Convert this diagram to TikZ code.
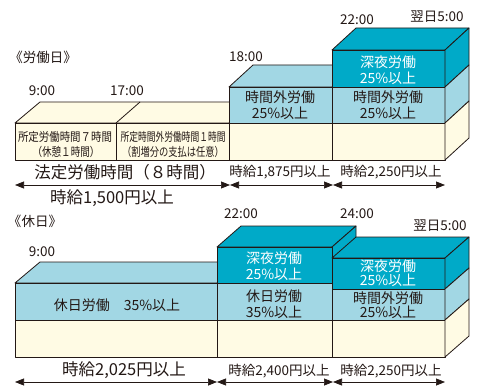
\documentclass[tikz,border=0pt]{standalone}
\usepackage{graphicx}
\usepackage{fontspec}
\setmainfont{Noto Sans CJK JP}
\usetikzlibrary{arrows.meta}
\definecolor{teal1}{RGB}{0,170,200}
\definecolor{lblue}{RGB}{162,215,228}
\definecolor{cream}{RGB}{255,251,228}
\definecolor{ink}{RGB}{35,24,21}
\newcommand{\condw}[2]{\resizebox{#1}{\height}{#2}}
\begin{document}
\begin{tikzpicture}[x=1pt,y=-1pt,
  face/.style={draw=ink, line width=0.8pt, line join=round},
  tf/.style={face, fill=teal1}, bf/.style={face, fill=lblue}, cf/.style={face, fill=cream},
  lab/.style={text=ink, inner sep=0pt, font=\fontsize{13.5}{15}\selectfont},
  big/.style={lab, font=\fontsize{16.5}{18}\selectfont},
  mid/.style={lab, font=\fontsize{13.5}{15}\selectfont},
  blk/.style={lab, font=\fontsize{14}{16.5}\selectfont, align=center},
  wblk/.style={blk, text=white},
  small/.style={lab, font=\fontsize{12}{14}\selectfont},
  arr/.style={draw=ink, line width=0.7pt, {Triangle[length=9pt,width=7pt]}-{Triangle[length=9pt,width=7pt]}}
]
\useasboundingbox (0,0) rectangle (481,385);
\fill[white] (0,0) rectangle (481,385);

% ===== top section (working day) =====
% long cream block
\draw[cf] (15,123) -- (40,102) -- (253,102) -- (229,123) -- cycle;
\draw[face] (116,123) -- (140,102);
\draw[cf] (15,123) rectangle (116,160);
\draw[cf] (116,123) rectangle (229,160);
% 18:00 block
\draw[bf] (229,87) -- (253,65) -- (356,65) -- (332,87) -- cycle;
\draw[bf] (229,87) rectangle (332,123);
\draw[cf] (229,123) rectangle (332,160);
% 22:00 block
\draw[tf] (332,50) -- (356,28) -- (469,28) -- (445,50) -- cycle;
\draw[tf] (332,50) rectangle (445,87);
\draw[bf] (332,87) rectangle (445,123);
\draw[cf] (332,123) rectangle (445,160);
\draw[tf] (445,50) -- (469,28) -- (469,65) -- (445,87) -- cycle;
\draw[bf] (445,87) -- (469,65) -- (469,101) -- (445,123) -- cycle;
\draw[cf] (445,123) -- (469,101) -- (469,138) -- (445,160) -- cycle;

\node[lab] (wd) at (43,57) {《労働日》};
\node[lab] (t1) at (42,91) {9:00};
\node[lab] (t2) at (127,91) {17:00};
\node[lab] (t3) at (246,57) {18:00};
\node[lab] (t4) at (357,20) {22:00};
\node[lab] (t5) at (437,17) {翌日5:00};

\node[small] (c1a) at (65,137) {\condw{94pt}{所定労働時間７時間}};
\node[small] (c1b) at (66,152) {\condw{67pt}{（休憩１時間）}};
\node[small] (c2a) at (173,137) {\condw{105pt}{所定時間外労働時間１時間}};
\node[small] (c2b) at (173,152) {\condw{102pt}{（割増分の支払は任意）}};

\node[blk] (b1) at (280,105) {時間外労働\\25\%以上};
\node[wblk] (b2) at (388,70) {深夜労働\\25\%以上};
\node[blk] (b3) at (388,105) {時間外労働\\25\%以上};

\node[big] (hl) at (125,172) {法定労働時間（８時間）};
\node[big] (p1) at (112,198) {時給1,500円以上};
\node[mid] (p2) at (280,172) {時給1,875円以上};
\node[mid] (p3) at (391,172) {時給2,250円以上};

\coordinate (a0) at (15,185);
\coordinate (a1) at (230,185);
\coordinate (a2) at (333,185);
\coordinate (a3) at (445,185);
\draw[arr] (a0) -- (a1);
\draw[arr] (a1) -- (a2);
\draw[arr] (a2) -- (a3);

% ===== bottom section (holiday) =====
\draw[bf] (15,283) -- (40,262) -- (241,262) -- (217,283) -- cycle;
\draw[bf] (15,283) rectangle (217,320);
\draw[cf] (15,320) rectangle (217,357);
% 22:00 block
\draw[tf] (217,247) -- (241,226) -- (356,226) -- (332,247) -- cycle;
\draw[tf] (332,247) -- (356,226) -- (356,240) -- (332,262) -- cycle;
\draw[tf] (217,247) rectangle (332,283);
\draw[bf] (217,283) rectangle (332,320);
\draw[cf] (217,320) rectangle (332,357);
% 24:00 block
\draw[tf] (332,258) -- (356,237) -- (469,237) -- (445,258) -- cycle;
\draw[tf] (332,258) rectangle (445,289);
\draw[bf] (332,289) rectangle (445,320);
\draw[cf] (332,320) rectangle (445,357);
\draw[tf] (445,258) -- (469,237) -- (469,268) -- (445,289) -- cycle;
\draw[bf] (445,289) -- (469,268) -- (469,299) -- (445,320) -- cycle;
\draw[cf] (445,320) -- (469,299) -- (469,336) -- (445,357) -- cycle;

\node[lab] (hd) at (35,221) {《休日》};
\node[lab] (s1) at (42,252) {9:00};
\node[lab] (s2) at (241,214) {22:00};
\node[lab] (s3) at (357,214) {24:00};
\node[lab] (s4) at (440,226) {翌日5:00};

\node[blk] (d1) at (117,305) {休日労働\quad 35\%以上};
\node[wblk] (d2) at (274,266) {深夜労働\\25\%以上};
\node[blk] (d3) at (274,304) {休日労働\\35\%以上};
\node[wblk, font=\fontsize{14}{13.5}\selectfont] (d4) at (388,273) {深夜労働\\25\%以上};
\node[blk, font=\fontsize{14}{13.5}\selectfont] (d5) at (388,305) {時間外労働\\25\%以上};

\node[big] (q1) at (124,370) {時給2,025円以上};
\node[mid] (q2) at (279,371) {時給2,400円以上};
\node[mid] (q3) at (391,371) {時給2,250円以上};

\coordinate (e0) at (15,382);
\coordinate (e1) at (217,382);
\coordinate (e2) at (333,382);
\coordinate (e3) at (445,382);
\draw[arr] (e0) -- (e1);
\draw[arr] (e1) -- (e2);
\draw[arr] (e2) -- (e3);
\end{tikzpicture}
\end{document}
